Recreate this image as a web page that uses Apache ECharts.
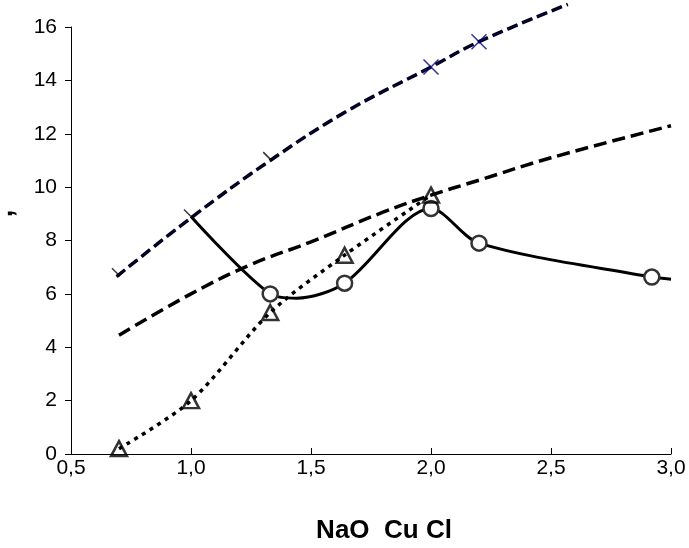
<!DOCTYPE html>
<html>
<head>
<meta charset="utf-8">
<script src="https://cdn.jsdelivr.net/npm/echarts@6/dist/echarts.min.js"></script>
<style>
html,body{margin:0;padding:0;background:#fff;}
#chart{width:689px;height:548px;}
</style>
</head>
<body>
<div id="chart"></div>
<script>
// Data
var xTicks = [0.5, 1.0, 1.5, 2.0, 2.5, 3.0];
var yTicks = [0, 2, 4, 6, 8, 10, 12, 14, 16];

// upper dashed trend curve
var upperTrend = [[0.69, 6.65], [1.0, 8.85], [1.33, 11.0], [1.65, 12.85], [2.0, 14.5], [2.2, 15.45], [2.57, 16.85]];
// cross markers on upper curve
var crossPts = [[2.0, 14.5], [2.2, 15.45]];
// partial marks on upper curve
var partialPts = [[0.7, 6.7], [1.0, 8.9], [1.33, 11.05]];
// middle dashed trend curve
var middleTrend = [[0.7, 4.45], [1.0, 6.0], [1.25, 7.1], [1.5, 7.95], [1.8, 9.06], [2.0, 9.7], [2.2, 10.26], [2.5, 11.1], [3.0, 12.3]];
// solid curve with circles
var solidLine = [[1.0, 8.9], [1.33, 6.0], [1.44, 5.84], [1.64, 6.4], [2.0, 9.2], [2.2, 7.9], [2.92, 6.63], [3.0, 6.55]];
var circlePts = [[1.33, 6.0], [1.64, 6.4], [2.0, 9.2], [2.2, 7.9], [2.92, 6.63]];
// dotted curve with triangles
var dottedLine = [[0.7, 0.2], [1.0, 2.0], [1.33, 5.3], [1.64, 7.45], [2.0, 9.7]];

var chart = echarts.init(document.getElementById('chart'));
var font = 'Liberation Sans, Arial, sans-serif';
chart.setOption({
  animation: false,
  grid: {left: 71, right: 18, top: 27, bottom: 94, containLabel: false, outerBoundsMode: 'none'},
  xAxis: {
    type: 'value', min: 0.5, max: 3.0, interval: 0.5,
    axisLine: {lineStyle: {color: '#000', width: 1}},
    axisTick: {inside: true, length: 6, lineStyle: {color: '#000'}},
    splitLine: {show: false},
    axisLabel: {color: '#000', fontSize: 21, fontFamily: font, margin: 4,
      formatter: function (v) { return v.toFixed(1).replace('.', ','); }},
    name: 'NaO  Cu Cl', nameLocation: 'middle', nameGap: 64,
    nameTextStyle: {color: '#000', fontSize: 26, fontWeight: 'bold', fontFamily: font, padding: [0, 0, 0, 26]}
  },
  yAxis: {
    type: 'value', min: 0, max: 16, interval: 2,
    axisLine: {show: true, lineStyle: {color: '#000', width: 1}},
    axisTick: {show: true, length: 6, lineStyle: {color: '#000'}},
    splitLine: {show: false},
    axisLabel: {color: '#000', fontSize: 21, fontFamily: font, margin: 14},
    name: ',', nameLocation: 'middle', nameGap: 53, nameRotate: 90,
    nameTextStyle: {color: '#000', fontSize: 27, fontWeight: 'bold', fontFamily: font, padding: [0, 0, 0, 54]}
  },
  series: [
    {type: 'line', data: upperTrend, smooth: 0.4, showSymbol: false, clip: false,
      lineStyle: {color: '#000', width: 3.5, type: [11, 5]}, z: 2},
    {type: 'line', data: upperTrend, smooth: 0.4, showSymbol: false, clip: false,
      lineStyle: {color: '#000080', width: 1, type: [11, 5]}, z: 2},
    {type: 'line', data: middleTrend, smooth: 0.4, showSymbol: false, clip: false,
      lineStyle: {color: '#000', width: 3.5, type: [13, 6]}, z: 2},
    {type: 'line', data: solidLine, smooth: 0.3, showSymbol: false, clip: false,
      lineStyle: {color: '#000', width: 3}, z: 3},
    {type: 'line', data: dottedLine, smooth: 0.3, showSymbol: false, clip: false,
      lineStyle: {color: '#000', width: 3.5, type: [4, 5]}, z: 3},
    {type: 'scatter', data: circlePts, symbol: 'circle', symbolSize: 15, clip: false,
      itemStyle: {color: '#fff', borderColor: '#333', borderWidth: 2.5, opacity: 1}, z: 5},
    {type: 'scatter', data: dottedLine, symbol: 'triangle', symbolSize: [16, 15], clip: false,
      itemStyle: {color: 'rgba(255,255,255,0)', borderColor: '#000', borderWidth: 2.5}, z: 6},
    {type: 'scatter', data: crossPts, symbol: 'path://M0,0L10,10M10,0L0,10', symbolSize: 15, clip: false,
      itemStyle: {color: 'none', borderColor: '#000080', borderWidth: 1.5}, z: 6},
    {type: 'scatter', data: partialPts, symbol: 'path://M0,0L10,10', symbolSize: 8, symbolOffset: [-3, -3], clip: false,
      itemStyle: {color: 'none', borderColor: '#000', borderWidth: 1.5}, z: 6}
  ]
});
</script>
</body>
</html>
